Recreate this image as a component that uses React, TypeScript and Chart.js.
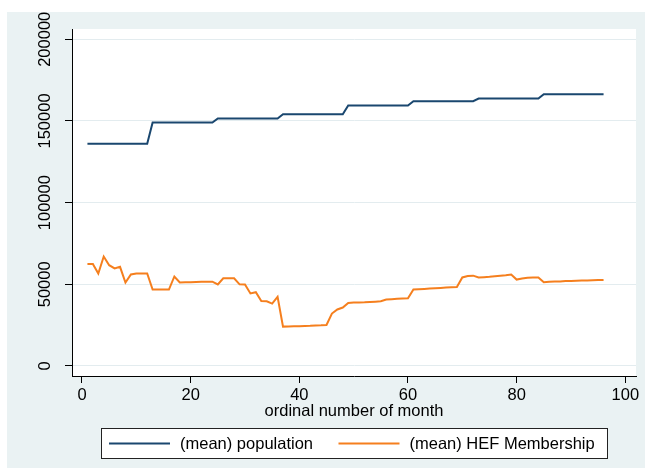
import React, { useEffect, useRef } from 'react';
import { Chart, registerables } from 'chart.js';

Chart.register(...registerables);

const FONT = '"Liberation Sans", Arial, Helvetica, sans-serif';
const FS = 16.5;

const months = [
  1, 2, 3, 4, 5, 6, 7, 8, 9, 10, 11, 12,
  13, 14, 15, 16, 17, 18, 19, 20, 21, 22, 23, 24,
  25, 26, 27, 28, 29, 30, 31, 32, 33, 34, 35, 36,
  37, 38, 39, 40, 41, 42, 43, 44, 45, 46, 47, 48,
  49, 50, 51, 52, 53, 54, 55, 56, 57, 58, 59, 60,
  61, 62, 63, 64, 65, 66, 67, 68, 69, 70, 71, 72,
  73, 74, 75, 76, 77, 78, 79, 80, 81, 82, 83, 84,
  85, 86, 87, 88, 89, 90, 91, 92, 93, 94, 95, 96,
];

const population = [
  136000, 136000, 136000, 136000, 136000, 136000, 136000, 136000, 136000, 136000, 136000, 136000,
  149000, 149000, 149000, 149000, 149000, 149000, 149000, 149000, 149000, 149000, 149000, 149000,
  151500, 151500, 151500, 151500, 151500, 151500, 151500, 151500, 151500, 151500, 151500, 151500,
  154100, 154100, 154100, 154100, 154100, 154100, 154100, 154100, 154100, 154100, 154100, 154100,
  159500, 159500, 159500, 159500, 159500, 159500, 159500, 159500, 159500, 159500, 159500, 159500,
  162100, 162100, 162100, 162100, 162100, 162100, 162100, 162100, 162100, 162100, 162100, 162100,
  163700, 163700, 163700, 163700, 163700, 163700, 163700, 163700, 163700, 163700, 163700, 163700,
  166400, 166400, 166400, 166400, 166400, 166400, 166400, 166400, 166400, 166400, 166400, 166400,
];

const hefMembership = [
  62500, 62500, 56600, 67000, 61700, 59700, 60700, 51100, 56000, 56600, 56600, 56600,
  46800, 46800, 46800, 46800, 54800, 51100, 51300, 51300, 51400, 51500, 51500, 51600,
  49900, 53700, 53700, 53700, 50000, 49900, 44400, 45200, 39800, 39600, 38200, 42300,
  24100, 24200, 24300, 24400, 24500, 24600, 24800, 24900, 25100, 32100, 34600, 35800,
  38600, 38800, 38900, 39000, 39200, 39400, 39600, 40700, 40900, 41100, 41300, 41500,
  46800, 47000, 47200, 47400, 47600, 47800, 48000, 48200, 48400, 54200, 55100, 55300,
  54200, 54400, 54600, 54900, 55200, 55500, 56000, 52900, 53500, 54000, 54200, 54200,
  51300, 51500, 51700, 51800, 52000, 52100, 52200, 52300, 52400, 52500, 52600, 52700,
];

const xTicks = [0, 20, 40, 60, 80, 100];
const yTicks = [0, 50000, 100000, 150000, 200000];

const seriesLabels = ['(mean) population', '(mean) HEF Membership'];
const seriesColors = ['#1A476F', '#F57F1E'];
const xTitle = 'ordinal number of month';

const stataPlugin = {
  id: 'stataLook',
  beforeDraw(chart: any) {
    const { ctx, chartArea } = chart;
    ctx.save();
    ctx.fillStyle = '#FFFFFF';
    ctx.fillRect(0, 0, chart.width, chart.height);
    ctx.fillStyle = '#EAF2F3';
    ctx.fillRect(7, 12, chart.width - 7, chart.height - 12);
    ctx.fillStyle = '#FFFFFF';
    ctx.fillRect(chartArea.left, chartArea.top, chartArea.right - chartArea.left, chartArea.bottom - chartArea.top);
    ctx.restore();
  },
  afterDraw(chart: any) {
    const { ctx, chartArea } = chart;
    const ys = chart.scales.y;
    ctx.save();
    ctx.font = `${FS}px ${FONT}`;
    ctx.fillStyle = '#000';
    ctx.textAlign = 'center';
    ctx.textBaseline = 'middle';
    for (const t of ys.ticks) {
      const py = ys.getPixelForValue(t.value);
      ctx.save();
      ctx.translate(45, py);
      ctx.rotate(-Math.PI / 2);
      ctx.fillText(String(t.value), 0, 0);
      ctx.restore();
    }
    // legend box
    const cx = (chartArea.left + chartArea.right) / 2;
    const boxW = 506;
    const boxL = Math.round(cx - boxW / 2) + 0.5;
    const boxT = 428.5;
    const boxH = 30;
    ctx.fillStyle = '#FFFFFF';
    ctx.fillRect(boxL, boxT, boxW, boxH);
    ctx.strokeStyle = '#222';
    ctx.lineWidth = 1;
    ctx.strokeRect(boxL, boxT, boxW, boxH);
    const ly = boxT + boxH / 2;
    const itemX = [boxL + 7.5, boxL + 237];
    chart.data.datasets.forEach((ds: any, i: number) => {
      const x0 = itemX[i];
      ctx.strokeStyle = ds.borderColor;
      ctx.lineWidth = 2;
      ctx.beginPath();
      ctx.moveTo(x0, ly);
      ctx.lineTo(x0 + 61, ly);
      ctx.stroke();
      ctx.fillStyle = '#000';
      ctx.textAlign = 'left';
      ctx.textBaseline = 'middle';
      ctx.fillText(ds.label, x0 + 71, ly + 1);
    });
    ctx.restore();
  },
};

export default function App() {
  const ref = useRef<HTMLCanvasElement | null>(null);
  useEffect(() => {
    if (!ref.current) return;
    Chart.defaults.font.family = FONT;
    const chart = new Chart(ref.current, {
      type: 'line',
      data: {
        datasets: [
          {
            label: seriesLabels[0],
            data: months.map((m, i) => ({ x: m, y: population[i] })),
            borderColor: seriesColors[0],
            backgroundColor: seriesColors[0],
            borderWidth: 2,
            pointRadius: 0,
            tension: 0,
            fill: false,
          },
          {
            label: seriesLabels[1],
            data: months.map((m, i) => ({ x: m, y: hefMembership[i] })),
            borderColor: seriesColors[1],
            backgroundColor: seriesColors[1],
            borderWidth: 2,
            pointRadius: 0,
            tension: 0,
            fill: false,
          },
        ],
      },
      options: {
        animation: false,
        responsive: false,
        events: [],
        layout: { padding: { left: 0, top: 29, right: 9, bottom: 0 } },
        plugins: {
          legend: { display: false },
          tooltip: { enabled: false },
          title: { display: false },
        },
        scales: {
          x: {
            type: 'linear',
            min: -1.84,
            max: 101.97,
            afterBuildTicks: (s: any) => {
              s.ticks = xTicks.map((v) => ({ value: v }));
            },
            afterFit: (s: any) => {
              s.height = 92;
            },
            grid: {
              drawOnChartArea: false,
              drawTicks: true,
              tickLength: 7,
              tickColor: '#000',
              tickWidth: 1,
            },
            border: { display: true, color: '#000', width: 1 },
            ticks: {
              font: { size: FS, family: FONT },
              color: '#000',
              padding: 3,
              maxRotation: 0,
              minRotation: 0,
              autoSkip: false,
            },
            title: {
              display: true,
              text: xTitle,
              font: { size: FS, family: FONT },
              color: '#000',
              padding: { top: 0, bottom: 47 },
            },
          },
          y: {
            type: 'linear',
            min: -6127,
            max: 206300,
            afterBuildTicks: (s: any) => {
              s.ticks = yTicks.map((v) => ({ value: v }));
            },
            afterFit: (s: any) => {
              s.width = 72;
            },
            grid: {
              color: '#E3ECEF',
              lineWidth: 1,
              drawTicks: true,
              tickLength: 7,
              tickColor: '#000',
              tickWidth: 1,
            },
            border: { display: true, color: '#000', width: 1 },
            ticks: { display: false },
          },
        },
      },
      plugins: [stataPlugin],
    } as any);
    return () => chart.destroy();
  }, []);
  return (
    <div style={{ position: 'fixed', left: 0, top: 0, width: 645, height: 468, overflow: 'hidden' }}>
      <canvas ref={ref} width={645} height={468} style={{ display: 'block' }} />
    </div>
  );
}
